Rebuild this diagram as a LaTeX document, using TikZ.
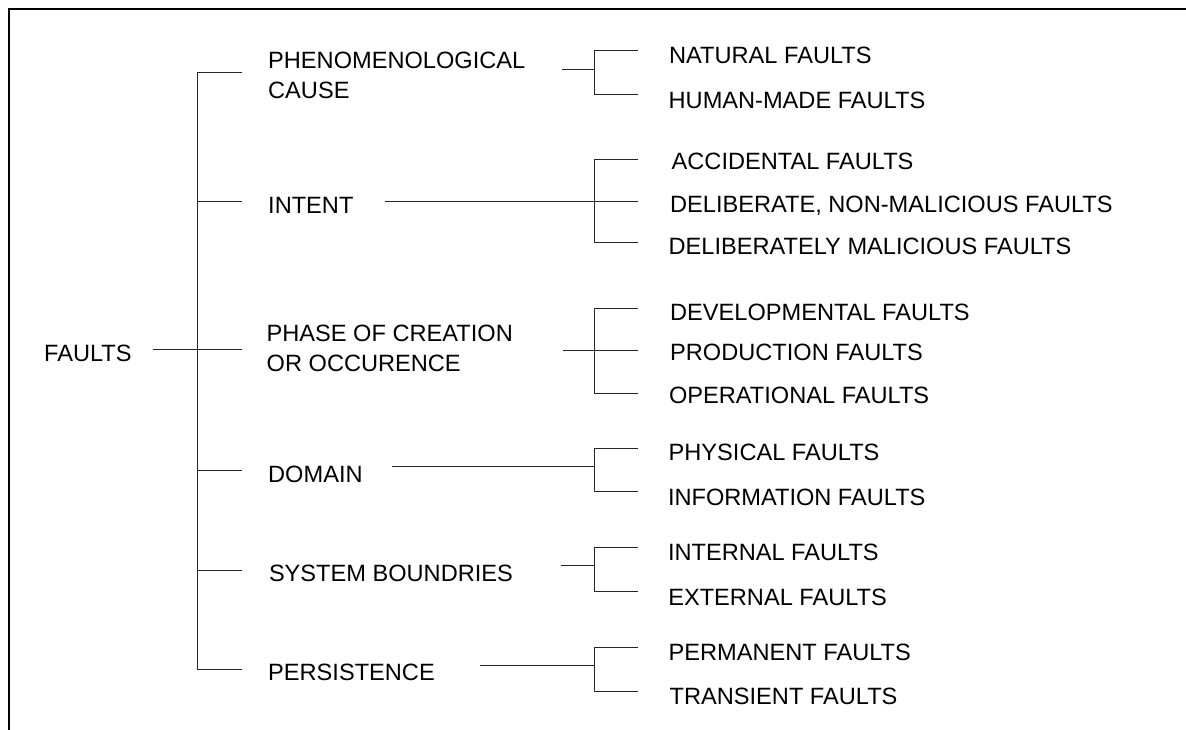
\documentclass[tikz,border=0pt]{standalone}
\usepackage{fontspec}
\setmainfont{Liberation Sans}
\begin{document}
\begin{tikzpicture}[x=1pt,y=-1pt,
  lbl/.style={anchor=base west,inner sep=0pt,font=\fontsize{23.6}{30}\selectfont},
  mlbl/.style={anchor=west,inner sep=0pt,align=left,font=\fontsize{23.6}{30}\selectfont},
  wire/.style={line width=1pt,draw=black!85},
  frame/.style={line width=2.4pt,line cap=rect}]
\useasboundingbox (0,0) rectangle (1186,729);

% page frame: top and left rules
\draw[frame] (1190,9.2) -- (9.2,9.2) -- (9.2,735);

% root and categories
\node[lbl]  (faults)   at (44,361.7)   {FAULTS};
\node[mlbl] (cause)    at (268,75.5)   {PHENOMENOLOGICAL\\CAUSE};
\node[lbl]  (intent)   at (268,213.3)  {INTENT};
\node[mlbl] (phase)    at (266.5,348)  {PHASE OF CREATION\\OR OCCURENCE};
\node[lbl]  (domain)   at (268,482.3)  {DOMAIN};
\node[lbl]  (boundary) at (268.8,581)  {SYSTEM BOUNDRIES};
\node[lbl]  (persist)  at (268,680)    {PERSISTENCE};

% leaf classes
\node[lbl] (natural)       at (669,63.7)    {NATURAL FAULTS};
\node[lbl] (humanmade)     at (668.5,108.3) {HUMAN-MADE FAULTS};
\node[lbl] (accidental)    at (671.5,169.3) {ACCIDENTAL FAULTS};
\node[lbl] (nonmalicious)  at (670,212.3)   {DELIBERATE, NON-MALICIOUS FAULTS};
\node[lbl] (malicious)     at (668.5,254)   {DELIBERATELY MALICIOUS FAULTS};
\node[lbl] (developmental) at (670,320)     {DEVELOPMENTAL FAULTS};
\node[lbl] (production)    at (670,360)     {PRODUCTION FAULTS};
\node[lbl] (operational)   at (668.9,403.3) {OPERATIONAL FAULTS};
\node[lbl] (physical)      at (668.5,460.7) {PHYSICAL FAULTS};
\node[lbl] (information)   at (667.8,505)   {INFORMATION FAULTS};
\node[lbl] (internal)      at (667.8,560.7) {INTERNAL FAULTS};
\node[lbl] (external)      at (668.1,605)   {EXTERNAL FAULTS};
\node[lbl] (permanent)     at (668.5,660)   {PERMANENT FAULTS};
\node[lbl] (transient)     at (669.5,704)   {TRANSIENT FAULTS};

% spine and bracket columns
\coordinate (spine) at (197.3,0);
\coordinate (bx)    at (594.3,0);

% root spine with category stubs
\coordinate (rootout) at (153.3,349);
\coordinate (c1in) at (241.7,72.7);
\coordinate (c2in) at (241.7,201.7);
\coordinate (c3in) at (241.7,349);
\coordinate (c4in) at (241.7,470.7);
\coordinate (c5in) at (241.7,570);
\coordinate (c6in) at (241.7,669);

\draw[wire] (c1in -| spine) -- (c6in -| spine);
\draw[wire] (rootout) -- (c3in);
\foreach \c in {c1in,c2in,c4in,c5in,c6in}
  \draw[wire] (\c -| spine) -- (\c);

% category outputs
\coordinate (c1out) at (561.7,69);
\coordinate (c2out) at (385,201.7);
\coordinate (c3out) at (563,350.7);
\coordinate (c4out) at (391.7,466.7);
\coordinate (c5out) at (561,565.7);
\coordinate (c6out) at (480,665.3);

% leaf stub ends
\coordinate (l1a) at (638.3,50);
\coordinate (l1b) at (638.3,94);
\coordinate (l2a) at (638.3,159);
\coordinate (l2b) at (638.3,201.7);
\coordinate (l2c) at (638.3,242.3);
\coordinate (l3a) at (638.3,308.3);
\coordinate (l3b) at (638.3,350.7);
\coordinate (l3c) at (638.3,393.3);
\coordinate (l4a) at (638.3,448.3);
\coordinate (l4b) at (638.3,491.7);
\coordinate (l5a) at (638.3,547.3);
\coordinate (l5b) at (638.3,591.7);
\coordinate (l6a) at (638.3,647.3);
\coordinate (l6b) at (638.3,691);

% two-way brackets
\foreach \a/\b/\o in {l1a/l1b/c1out,l4a/l4b/c4out,l5a/l5b/c5out,l6a/l6b/c6out}{
  \draw[wire] (\a) -- (\a -| bx) -- (\b -| bx) -- (\b);
  \draw[wire] (\o) -- (\o -| bx);
}

% three-way brackets
\foreach \a/\b/\c/\o in {l2a/l2b/l2c/c2out,l3a/l3b/l3c/c3out}{
  \draw[wire] (\a) -- (\a -| bx) -- (\c -| bx) -- (\c);
  \draw[wire] (\o) -- (\b);
}
\end{tikzpicture}
\end{document}
